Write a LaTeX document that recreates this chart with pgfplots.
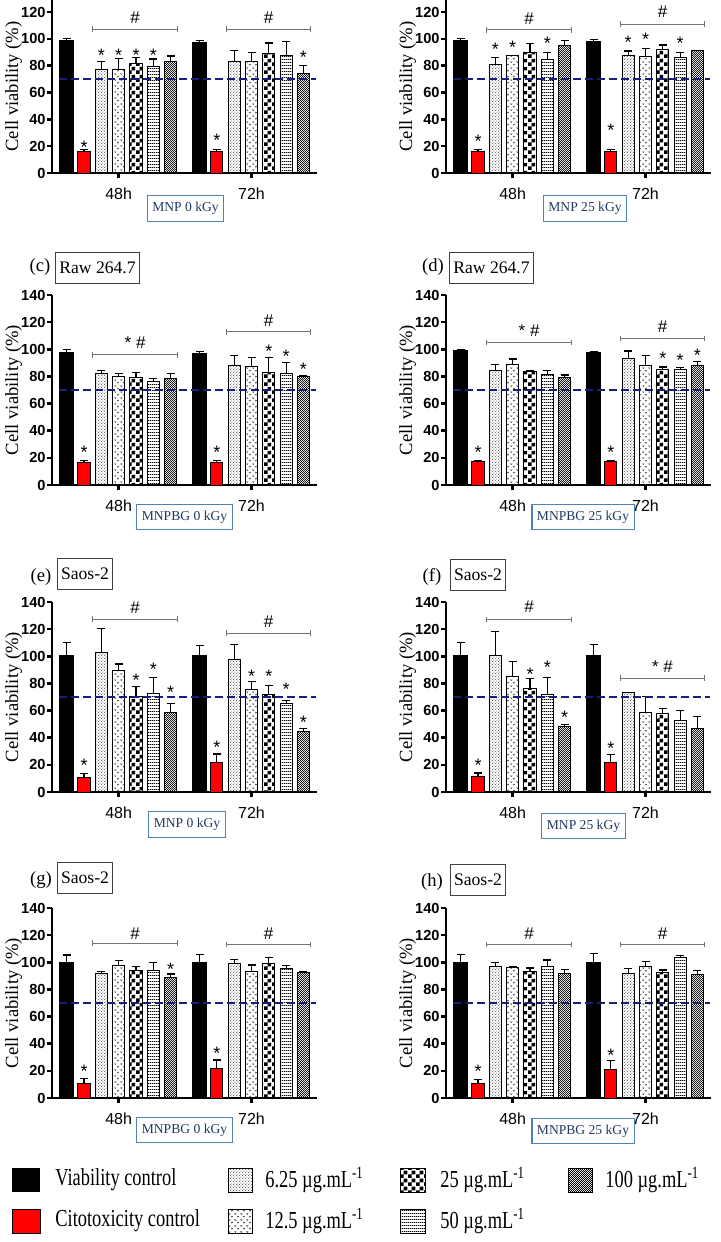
\documentclass[border=0pt]{standalone}
\usepackage{fontspec}
\setmainfont{Liberation Serif}
\newfontfamily\sansf{Liberation Sans}
\usepackage{pgfplots}
\usepackage{pgfplotstable}
\pgfplotsset{compat=1.18}
\usetikzlibrary{patterns}

% bar fills
\pgfdeclarepatternformonly{finedots}{\pgfqpoint{0pt}{0pt}}{\pgfqpoint{1.6pt}{1.6pt}}{\pgfqpoint{1.6pt}{1.6pt}}{%
  \pgfpathcircle{\pgfqpoint{0.4pt}{0.4pt}}{0.28pt}%
  \pgfpathcircle{\pgfqpoint{1.2pt}{1.2pt}}{0.28pt}%
  \pgfusepath{fill}}
\pgfdeclarepatternformonly{vees}{\pgfqpoint{0pt}{0pt}}{\pgfqpoint{3pt}{3pt}}{\pgfqpoint{3pt}{3pt}}{%
  \pgfsetlinewidth{0.3pt}%
  \pgfpathmoveto{\pgfqpoint{0.3pt}{2.6pt}}\pgfpathlineto{\pgfqpoint{0.75pt}{2.0pt}}\pgfpathlineto{\pgfqpoint{1.2pt}{2.6pt}}%
  \pgfpathmoveto{\pgfqpoint{1.8pt}{1.1pt}}\pgfpathlineto{\pgfqpoint{2.25pt}{0.5pt}}\pgfpathlineto{\pgfqpoint{2.7pt}{1.1pt}}%
  \pgfusepath{stroke}}
\pgfdeclarepatternformonly{checker}{\pgfqpoint{0pt}{0pt}}{\pgfqpoint{4pt}{4pt}}{\pgfqpoint{4pt}{4pt}}{%
  \pgfpathrectangle{\pgfqpoint{0pt}{0pt}}{\pgfqpoint{2pt}{2pt}}%
  \pgfpathrectangle{\pgfqpoint{2pt}{2pt}}{\pgfqpoint{2pt}{2pt}}%
  \pgfusepath{fill}}
\pgfdeclarepatternformonly{hlines}{\pgfqpoint{0pt}{0pt}}{\pgfqpoint{1pt}{1.7pt}}{\pgfqpoint{1pt}{1.7pt}}{%
  \pgfpathrectangle{\pgfqpoint{0pt}{0.6pt}}{\pgfqpoint{1pt}{0.45pt}}%
  \pgfusepath{fill}}
\pgfdeclarepatternformonly{finecheck}{\pgfqpoint{0pt}{0pt}}{\pgfqpoint{1.2pt}{1.2pt}}{\pgfqpoint{1.2pt}{1.2pt}}{%
  \pgfpathrectangle{\pgfqpoint{0pt}{0pt}}{\pgfqpoint{0.6pt}{0.6pt}}%
  \pgfpathrectangle{\pgfqpoint{0.6pt}{0.6pt}}{\pgfqpoint{0.6pt}{0.6pt}}%
  \pgfusepath{fill}}

\definecolor{navy}{RGB}{25,30,120}
\definecolor{boxtxt}{RGB}{31,56,100}
\definecolor{boxline}{RGB}{80,130,185}

% data: g = group position, then value / error for each bar
\pgfplotstableread{
g vc vce cc cce a ae b be c ce d de e ee
0 98.5 1.5 16.2 1.5 77 6.3 77 8.5 81.5 4.8 79.5 5.5 83 4.3
7.67 97.5 1.3 16.2 1.5 83 8.5 83.3 6.7 89.3 7.7 87.5 10.5 74.3 5.7
}\tA
\pgfplotstableread{
g vc vce cc cce a ae b be c ce d de e ee
0 98.8 1.7 16 1.6 81 5.4 87.3 0.5 89.6 6.7 84.9 5.1 94.8 4
7.67 97.8 1.5 16 1.6 87.3 3.7 86.8 5.8 91.8 3.7 86.4 3.2 91 0.5
}\tB
\pgfplotstableread{
g vc vce cc cce a ae b be c ce d de e ee
0 98 1.8 16.7 1.3 82 2.5 79.6 2.4 79 4 76.4 2.2 78.6 3.4
7.67 96.8 1.5 16.7 1.3 88.4 7.2 87.4 6.4 83 10.8 82.3 8.1 79.8 0.5
}\tC
\pgfplotstableread{
g vc vce cc cce a ae b be c ce d de e ee
0 98.8 1 17 1.2 84.5 4.4 88.9 4 83.3 1.2 81.5 2.7 79 2
7.67 97.3 1.2 17 1.2 93.3 5.5 88.2 7.1 85.2 1.8 85.2 1.3 87.7 3.2
}\tD
\pgfplotstableread{
g vc vce cc cce a ae b be c ce d de e ee
0 100.7 9.7 10.8 3 102.7 17.8 89.4 4.9 70.6 6.9 72.6 11.6 58.5 6.7
7.67 100.7 7.2 21.4 6.6 97.3 11.1 75.6 5.9 71.9 6.4 65.2 2.5 44.8 2
}\tE
\pgfplotstableread{
g vc vce cc cce a ae b be c ce d de e ee
0 100.5 9.5 11.1 2.9 100.5 17.8 85.2 11.1 76.3 7.4 71.9 12.3 48.1 1.5
7.67 100.5 7.9 21.5 6.2 73.1 0.3 58.8 11.6 58 3.5 53 6.8 46.7 8.9
}\tF
\pgfplotstableread{
g vc vce cc cce a ae b be c ce d de e ee
0 100 5.4 10.9 3.4 91.6 1.4 97.8 3.7 93.8 3 94.3 5.5 88.6 2.8
7.67 100 6 21.5 6.5 98.8 3.4 93 5 99.3 4.4 95.6 1.9 92.8 0.3
}\tG
\pgfplotstableread{
g vc vce cc cce a ae b be c ce d de e ee
0 100 5.7 10.4 3.4 97 3 96 0.8 93.3 2.5 96.8 4.9 91.6 3
7.67 100 6.2 21 6.6 91.6 3.7 96.8 3.5 92.6 1.7 103.5 1.5 91 3
}\tH

\pgfplotsset{
  barst/.style={ybar, bar shift=0pt, bar width=0.7, draw=black, line width=0.5pt,
    error bars/y dir=plus, error bars/y explicit,
    error bars/error bar style={black, line width=0.6pt},
    error bars/error mark options={black, rotate=90, mark size=2pt, line width=0.6pt}},
  vpanel/.style={scale only axis, width=132.5pt, anchor=south west,
    xmin=-0.85, xmax=14.45, ymin=0, enlargelimits=false, clip=false,
    axis x line=bottom, axis y line=left,
    axis line style={line width=1.3pt, -},
    tick style={line width=1.3pt, black}, tick align=outside, major tick length=2.5pt,
    xtick={3,10.67}, xticklabels={48h,72h},
    x tick label style={font=\sansf\fontsize{8}{8}\selectfont, yshift=-1.2pt},
    y tick label style={font=\sansf\bfseries\fontsize{7.3}{7.5}\selectfont, inner xsep=0.5pt},
    /pgf/number format/assume math mode=true,
    ylabel={Cell viability (\%)},
    ylabel style={at={(axis description cs:-0.145,0.5)}, anchor=center, font=\fontsize{9.3}{10}\selectfont}},
  tallpanel/.style={vpanel, height=95pt, ymax=140, ytick={0,20,...,140}}
}
\tikzset{
  st/.style={font=\sansf\fontsize{9}{9}\selectfont, inner sep=0pt, yshift=-2pt},
  hs/.style={font=\sansf\fontsize{8.5}{9}\selectfont, inner sep=0pt},
  brk/.style={black!55, line width=0.5pt},
  cell/.style={draw=black!75, line width=0.5pt, font=\fontsize{8.8}{9}\selectfont, inner xsep=2pt, minimum height=15.5pt},
  mat/.style={draw=boxline, line width=0.6pt, text=boxtxt, font=\fontsize{6.8}{7}\selectfont, inner xsep=2.5pt, minimum height=12.5pt},
  plab/.style={font=\fontsize{9.3}{10}\selectfont}
}

\newcommand{\bars}[1]{%
  \addplot[barst, bar width=0.8, fill=black] table[x=g, y=vc, y error=vce]{#1};
  \addplot[barst, fill=red] table[x expr=\thisrow{g}+1, y=cc, y error=cce]{#1};
  \addplot[barst, pattern=finedots, pattern color=black] table[x expr=\thisrow{g}+2, y=a, y error=ae]{#1};
  \addplot[barst, pattern=vees, pattern color=black!80] table[x expr=\thisrow{g}+3, y=b, y error=be]{#1};
  \addplot[barst, pattern=checker, pattern color=black] table[x expr=\thisrow{g}+4, y=c, y error=ce]{#1};
  \addplot[barst, pattern=hlines, pattern color=black] table[x expr=\thisrow{g}+5, y=d, y error=de]{#1};
  \addplot[barst, pattern=finecheck, pattern color=black!90] table[x expr=\thisrow{g}+6, y=e, y error=ee]{#1};
  \addplot[navy, line width=1pt, dash pattern=on 4pt off 2pt, mark=none] coordinates {(-0.46,70) (14.4,70)};
}
\newcommand{\st}[2]{\node[st] at (axis cs:#1,#2) {*};}
\newcommand{\brA}[3]{%
  \draw[brk] ([yshift=1.4pt]axis cs:1.5,#1) -- ([yshift=-1.4pt]axis cs:1.5,#1)
    (axis cs:1.5,#1) -- (axis cs:6.4,#1)
    ([yshift=1.4pt]axis cs:6.4,#1) -- ([yshift=-1.4pt]axis cs:6.4,#1);
  \node[hs] at (axis cs:3.95,#2) {#3};}
\newcommand{\brB}[3]{%
  \draw[brk] ([yshift=1.4pt]axis cs:9.2,#1) -- ([yshift=-1.4pt]axis cs:9.2,#1)
    (axis cs:9.2,#1) -- (axis cs:14.1,#1)
    ([yshift=1.4pt]axis cs:14.1,#1) -- ([yshift=-1.4pt]axis cs:14.1,#1);
  \node[hs] at (axis cs:11.65,#2) {#3};}
\newcommand{\legtxt}[1]{\scalebox{0.92}[1.22]{#1}}

\begin{document}
\begin{tikzpicture}
\useasboundingbox (0,0) rectangle (360.5pt,-621pt);
\clip (0,0) rectangle (360.5pt,-621pt);

% (a) MNP 0 kGy
\begin{axis}[vpanel, at={(26pt,-86.5pt)}, height=86.5pt, ymax=129, ytick={0,20,...,120}]
\bars{\tA}
\st{1}{22}\st{2}{90.5}\st{3}{90.5}\st{4}{90.5}\st{5}{90.5}\st{8.67}{27}\st{13.67}{89}
\brA{107.2}{115.5}{\#}\brB{107.2}{115.5}{\#}
\end{axis}
% (b) MNP 25 kGy
\begin{axis}[vpanel, at={(223pt,-86.5pt)}, height=86.5pt, ymax=129, ytick={0,20,...,120}]
\bars{\tB}
\st{1}{26.8}\st{2}{95}\st{3}{96.8}\st{5}{99.5}\st{8.67}{34.7}\st{9.67}{100.7}\st{10.67}{102.5}\st{12.67}{99.5}
\brA{106.7}{115}{\#}\brB{111}{120}{\#}
\end{axis}
% (c)
\begin{axis}[tallpanel, at={(26pt,-242.5pt)}]
\bars{\tC}
\st{1}{26.8}\st{8.67}{26.8}\st{11.67}{101.7}\st{12.67}{98}\st{13.67}{88.4}
\brA{95.8}{104.9}{* \#}\brB{112.8}{121}{\#}
\end{axis}
% (d)
\begin{axis}[tallpanel, at={(223pt,-242.5pt)}]
\bars{\tD}
\st{1}{27.3}\st{8.67}{27.3}\st{11.67}{96.3}\st{12.67}{94.6}\st{13.67}{98.8}
\brA{104.9}{113.5}{* \#}\brB{107.9}{116.5}{\#}
\end{axis}
% (e)
\begin{axis}[tallpanel, at={(26pt,-396pt)}]
\bars{\tE}
\st{1}{22.7}\st{4}{85.4}\st{5}{93.6}\st{6}{76.3}\st{8.67}{36}\st{10.67}{88.1}\st{11.67}{88}\st{12.67}{78.5}\st{13.67}{54.4}
\brA{127.4}{135.6}{\#}\brB{117}{125.7}{\#}
\end{axis}
% (f)
\begin{axis}[tallpanel, at={(223pt,-396pt)}]
\bars{\tF}
\st{1}{22.7}\st{4}{90}\st{5}{94.8}\st{6}{58}\st{8.67}{35}
\brA{127.2}{136.3}{\#}\brB{84}{92.6}{* \#}
\end{axis}
% (g)
\begin{axis}[tallpanel, at={(26pt,-549pt)}]
\bars{\tG}
\st{1}{22.7}\st{6}{98}\st{8.67}{35.6}
\brA{114}{121}{\#}\brB{113}{121}{\#}
\end{axis}
% (h)
\begin{axis}[tallpanel, at={(223pt,-549pt)}]
\bars{\tH}
\st{1}{22.7}\st{8.67}{34.5}
\brA{113}{121}{\#}\brB{113}{121}{\#}
\end{axis}

\begin{scope}[x=0.5pt, y=-0.5pt]
% material boxes under the panels
\node[mat] at (185.5,208.5) {MNP 0 kGy};
\node[mat] at (585,208.5) {MNP 25 kGy};
\node[mat] at (184.5,517) {MNPBG 0 kGy};
\node[mat] at (583,517) {MNPBG 25 kGy};
\node[mat] at (187,824.5) {MNP 0 kGy};
\node[mat] at (583.5,826) {MNP 25 kGy};
\node[mat] at (184.5,1130) {MNPBG 0 kGy};
\node[mat] at (583,1131) {MNPBG 25 kGy};
% panel letters and cell lines
\node[plab] at (40,267) {(c)};  \node[cell] at (97.5,267.5) {Raw 264.7};
\node[plab] at (433,267) {(d)}; \node[cell] at (491.5,268) {Raw 264.7};
\node[plab] at (41,577) {(e)};  \node[cell] at (85,573.5) {Saos-2};
\node[plab] at (432,577) {(f)}; \node[cell] at (478,575) {Saos-2};
\node[plab] at (41,880) {(g)};  \node[cell] at (85,878) {Saos-2};
\node[plab] at (432,882) {(h)}; \node[cell] at (478,880) {Saos-2};
% legend
\fill[black] (12,1168) rectangle (40,1192);
\draw[black, line width=0.5pt, fill=red] (12,1209) rectangle (40,1233);
\draw[black, line width=0.5pt, pattern=finedots] (228,1168) rectangle (252,1192);
\draw[black, line width=0.5pt, pattern=vees, pattern color=black!80] (228,1209) rectangle (252,1233);
\draw[black, line width=0.5pt, pattern=checker] (400,1168) rectangle (425,1192);
\draw[black, line width=0.5pt, pattern=hlines] (400,1209) rectangle (425,1233);
\draw[black, line width=0.5pt, pattern=finecheck] (568,1168) rectangle (592,1192);
\begin{scope}[every node/.style={anchor=west, inner sep=0pt, font=\fontsize{10}{12}\selectfont}]
\node at (55,1180) {\legtxt{Viability control}};
\node at (55,1221) {\legtxt{Citotoxicity control}};
\node at (265,1180) {\legtxt{6.25 µg.mL\textsuperscript{-1}}};
\node at (265,1221) {\legtxt{12.5 µg.mL\textsuperscript{-1}}};
\node at (440,1180) {\legtxt{25 µg.mL\textsuperscript{-1}}};
\node at (440,1221) {\legtxt{50 µg.mL\textsuperscript{-1}}};
\node at (605,1180) {\legtxt{100 µg.mL\textsuperscript{-1}}};
\end{scope}
\end{scope}
\end{tikzpicture}
\end{document}
